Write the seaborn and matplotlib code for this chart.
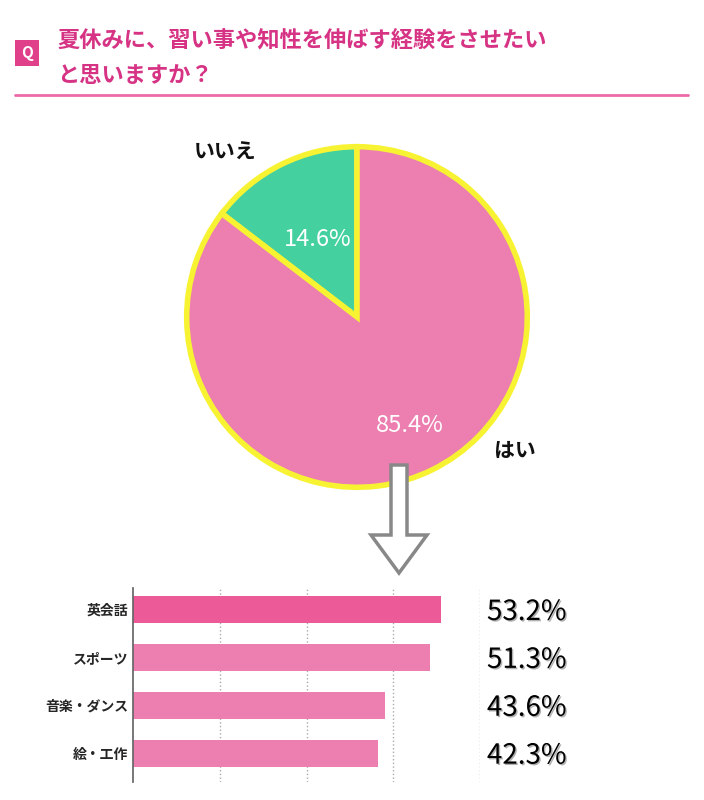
import matplotlib
matplotlib.use("Agg")
import matplotlib.pyplot as plt
import seaborn as sns
import pandas as pd
from matplotlib.patches import FancyArrow, FancyBboxPatch
import matplotlib.patheffects as pe

sns.set_theme(style="white")
plt.rcParams['font.family'] = ['Noto Sans CJK JP', 'DejaVu Sans']

title_lines = ["夏休みに、習い事や知性を伸ばす経験をさせたい", "と思いますか？"]
pie_labels = ["いいえ", "はい"]
pie_values = [14.6, 85.4]
bar_cats = ["英会話", "スポーツ", "音楽・ダンス", "絵・工作"]
bar_vals = [53.2, 51.3, 43.6, 42.3]

W, H = 704, 800
fig = plt.figure(figsize=(7.04, 8.0), dpi=100)
fx = lambda x: x / W
fy = lambda y: 1 - y / H

# header
fig.patches.append(FancyBboxPatch((fx(15), fy(66)), fx(24), 26 / H, boxstyle="square,pad=0",
                                  transform=fig.transFigure, facecolor="#e0408a", edgecolor="none"))
fig.text(fx(27), fy(53), "Q", color="white", fontsize=11, fontweight="bold", ha="center", va="center")
fig.text(fx(57), fy(40), title_lines[0], color="#d63384", fontsize=16, fontweight="bold", va="center")
fig.text(fx(57), fy(75), title_lines[1], color="#d63384", fontsize=16, fontweight="bold", va="center")
fig.add_artist(plt.Line2D([fx(15), fx(688)], [fy(95), fy(95)], transform=fig.transFigure,
                          color="#ec6aa8", lw=2))

# pie
axp = fig.add_axes([fx(185), fy(489), 344 / W, 344 / H])
axp.pie(pie_values, colors=["#44d19f", "#ec7fb0"], startangle=90, counterclock=True, radius=1,
        wedgeprops=dict(edgecolor="#f7f332", linewidth=4))
axp.set_xlim(-1.01, 1.01)
axp.set_ylim(-1.01, 1.01)
axp.set_aspect("equal")
fig.text(fx(318), fy(240), f"{pie_values[0]}%", color="white", fontsize=17, ha="center", va="center")
fig.text(fx(410), fy(425), f"{pie_values[1]}%", color="white", fontsize=17, ha="center", va="center")
fig.text(fx(225), fy(152), pie_labels[0], fontsize=15, fontweight="bold", ha="center", va="center", color="#111")
fig.text(fx(515), fy(450), pie_labels[1], fontsize=15, fontweight="bold", ha="center", va="center", color="#111")

# arrow
fig.patches.append(FancyArrow(fx(399), fy(465), 0, -(108) / H, width=16 / W, head_width=56 / W,
                              head_length=38 / H, length_includes_head=True,
                              transform=fig.transFigure, facecolor="white", edgecolor="#888", lw=2.5))

# bars
df = pd.DataFrame({"cat": bar_cats, "val": bar_vals})
axb = fig.add_axes([fx(133), fy(782), (480 - 133) / W, (782 - 588) / H])
sns.barplot(data=df, x="val", y="cat", ax=axb, palette=["#ed5a98", "#ec7fb0", "#ec7fb0", "#ec7fb0"],
            hue="cat", legend=False, width=0.57, edgecolor="none", saturation=1)
axb.set_xlim(0, 60)
axb.set_ylim(3.6, -0.45)
axb.set_xticks([15, 30, 45, 60])
axb.set_xticklabels([])
axb.grid(axis="x", linestyle=":", color="#aaa", lw=1)
axb.set_xlabel(""); axb.set_ylabel("")
for s in ["top", "right", "bottom"]:
    axb.spines[s].set_visible(False)
axb.spines["left"].set_color("#666")
axb.tick_params(axis="y", length=0, labelsize=10)
for t in axb.get_yticklabels():
    t.set_fontweight("bold")
for i, v in enumerate(bar_vals):
    axb.text(61.2, i + 0.05, f"{v}%", fontsize=20, va="center", ha="left", color="black",
             path_effects=[pe.withSimplePatchShadow(offset=(1, -1), alpha=0.3)])

fig.savefig("out.png", dpi=100, facecolor="white")
